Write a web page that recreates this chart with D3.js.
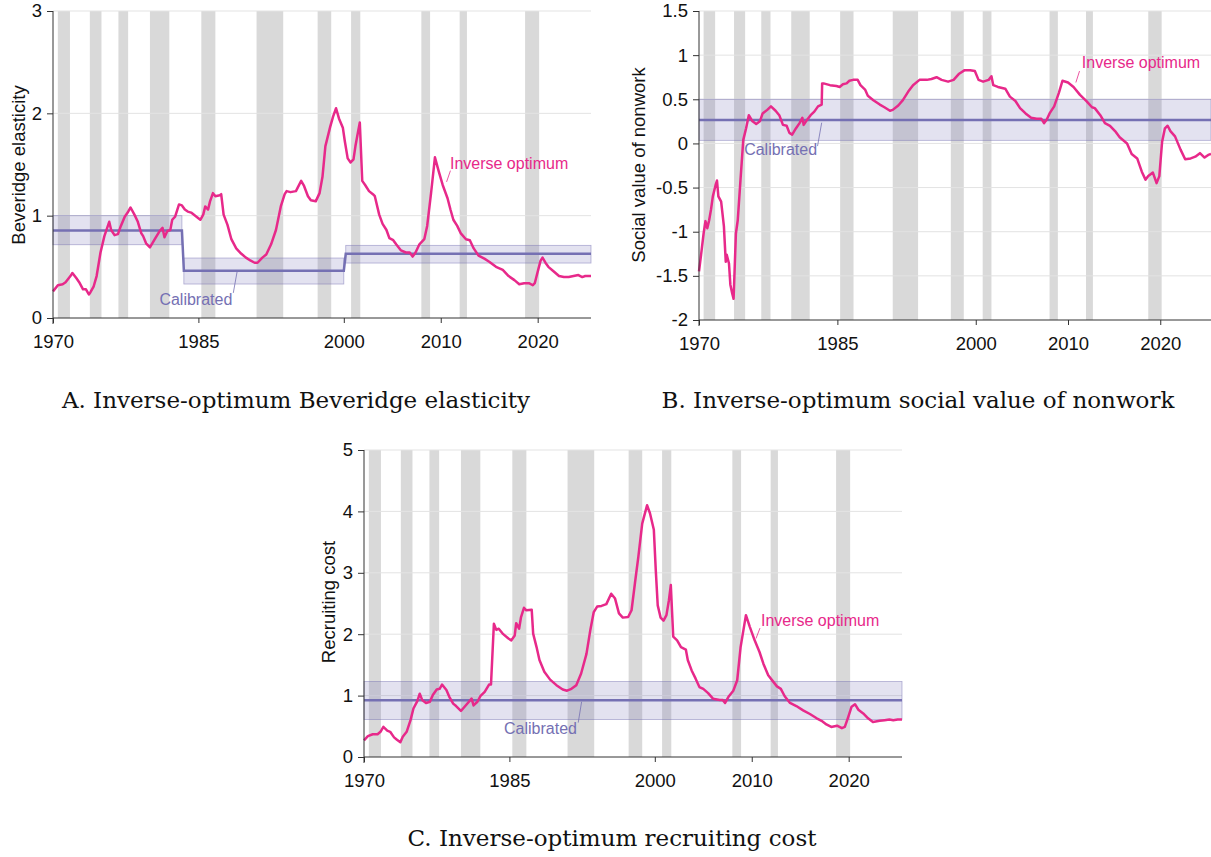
<!DOCTYPE html>
<html>
<head>
<meta charset="utf-8">
<script src="https://cdn.jsdelivr.net/npm/d3@7"></script>
<style>
  html, body { margin: 0; padding: 0; background: #fff; }
  svg { display: block; }
</style>
</head>
<body>
<svg id="chart" width="1211" height="857"></svg>
<script>
// ---------------- DATA ----------------
const xTickYears = [1970, 1985, 2000, 2010, 2020];
const xDomain = [1970, 2025.5];

// Shaded periods [start, end]
const shadedPeriods = [
  [1970.5, 1971.75], [1973.8, 1975.0], [1976.75, 1977.75], [1980.0, 1982.0],
  [1985.3, 1986.75], [1991.0, 1993.75], [1997.3, 1998.7], [2000.75, 2001.7],
  [2008.0, 2008.9], [2011.95, 2012.7], [2018.7, 2020.15]
];

// Panel A: inverse-optimum Beveridge elasticity [year, value]
const inverseA = [
  [1970.0,0.26],[1970.5,0.32],[1971.0,0.33],[1971.3,0.35],[1971.8,0.41],[1972.0,0.44],
  [1972.4,0.39],[1972.7,0.35],[1973.1,0.28],[1973.4,0.28],[1973.7,0.23],[1973.85,0.25],
  [1974.2,0.31],[1974.5,0.41],[1974.9,0.64],[1975.3,0.80],[1975.8,0.94],[1976.0,0.86],
  [1976.35,0.81],[1976.7,0.82],[1977.0,0.90],[1977.4,0.99],[1977.7,1.03],[1978.0,1.08],
  [1978.4,1.01],[1978.75,0.94],[1979.1,0.83],[1979.3,0.80],[1979.6,0.73],[1980.0,0.69],
  [1980.5,0.77],[1981.0,0.85],[1981.3,0.88],[1981.5,0.79],[1981.8,0.85],[1982.1,0.86],
  [1982.3,0.96],[1982.6,0.99],[1983.0,1.11],[1983.3,1.10],[1983.6,1.06],[1983.9,1.04],
  [1984.25,1.03],[1984.8,0.99],[1985.2,0.96],[1985.5,1.01],[1985.7,1.09],[1986.0,1.06],
  [1986.2,1.14],[1986.5,1.22],[1986.75,1.19],[1987.2,1.20],[1987.35,1.21],[1987.6,1.01],
  [1988.0,0.91],[1988.4,0.77],[1988.9,0.68],[1989.4,0.63],[1989.9,0.59],[1990.4,0.56],
  [1990.8,0.54],[1991.1,0.54],[1991.6,0.59],[1992.0,0.62],[1992.5,0.72],[1993.0,0.86],
  [1993.5,1.09],[1993.9,1.21],[1994.1,1.24],[1994.5,1.23],[1995.06,1.24],[1995.6,1.34],
  [1995.9,1.29],[1996.3,1.19],[1996.6,1.15],[1997.1,1.14],[1997.5,1.22],[1997.8,1.38],
  [1998.1,1.68],[1998.6,1.87],[1998.9,1.97],[1999.2,2.05],[1999.5,1.95],[1999.9,1.86],
  [2000.1,1.73],[2000.4,1.56],[2000.7,1.52],[2001.0,1.55],[2001.2,1.68],[2001.45,1.81],
  [2001.65,1.91],[2001.9,1.34],[2002.2,1.30],[2002.6,1.24],[2003.0,1.21],[2003.2,1.19],
  [2003.65,1.01],[2004.0,0.92],[2004.4,0.86],[2004.7,0.78],[2005.1,0.76],[2005.4,0.72],
  [2005.9,0.66],[2006.4,0.64],[2006.8,0.64],[2007.1,0.60],[2007.4,0.64],[2007.8,0.72],
  [2008.3,0.77],[2008.6,0.90],[2009.0,1.22],[2009.4,1.57],[2009.8,1.43],[2010.2,1.30],
  [2010.7,1.17],[2011.0,1.06],[2011.3,0.96],[2011.7,0.90],[2012.05,0.83],[2012.6,0.77],
  [2013.0,0.76],[2013.4,0.68],[2013.9,0.61],[2014.5,0.58],[2015.0,0.55],[2015.7,0.50],
  [2016.4,0.47],[2017.0,0.41],[2017.6,0.37],[2018.1,0.33],[2018.6,0.34],[2019.1,0.34],
  [2019.5,0.32],[2019.7,0.34],[2020.05,0.47],[2020.3,0.56],[2020.5,0.59],[2020.8,0.54],
  [2021.1,0.50],[2021.6,0.46],[2022.2,0.41],[2022.7,0.40],[2023.2,0.40],[2023.7,0.41],
  [2024.2,0.42],[2024.6,0.40],[2024.9,0.41],[2025.5,0.41]
];
// Calibrated regimes for A: [start, end, value, low, high]
const calibratedA = [
  [1970.0, 1983.3, 0.855, 0.716, 1.0],
  [1983.5, 2000.0, 0.462, 0.332, 0.586],
  [2000.2, 2025.5, 0.628, 0.537, 0.71]
];

// Panel B: inverse-optimum social value of nonwork
const inverseB = [
  [1970.0,-1.45],[1970.25,-1.24],[1970.5,-1.02],[1970.7,-0.88],[1970.9,-0.96],[1971.1,-0.87],
  [1971.3,-0.75],[1971.5,-0.60],[1971.8,-0.47],[1971.95,-0.42],[1972.1,-0.60],[1972.4,-0.66],
  [1972.7,-0.94],[1972.9,-1.34],[1973.0,-1.26],[1973.25,-1.36],[1973.4,-1.60],[1973.6,-1.70],
  [1973.75,-1.76],[1974.0,-1.02],[1974.2,-0.87],[1974.5,-0.41],[1974.8,0.04],[1975.1,0.17],
  [1975.4,0.32],[1975.8,0.25],[1976.2,0.22],[1976.6,0.25],[1976.9,0.34],[1977.4,0.38],
  [1977.8,0.42],[1978.3,0.37],[1978.7,0.32],[1979.1,0.21],[1979.5,0.20],[1979.8,0.12],
  [1980.1,0.10],[1980.5,0.17],[1980.9,0.23],[1981.2,0.29],[1981.35,0.21],[1981.6,0.25],
  [1982.1,0.32],[1982.5,0.36],[1982.9,0.42],[1983.3,0.44],[1983.35,0.68],[1983.5,0.68],
  [1984.2,0.66],[1984.9,0.65],[1985.25,0.64],[1985.6,0.67],[1986.0,0.68],[1986.3,0.71],
  [1986.7,0.72],[1987.2,0.72],[1987.5,0.66],[1988.0,0.61],[1988.3,0.54],[1988.9,0.49],
  [1989.6,0.44],[1990.1,0.41],[1990.7,0.37],[1991.0,0.38],[1991.6,0.43],[1992.1,0.49],
  [1992.7,0.59],[1993.2,0.66],[1993.9,0.72],[1994.7,0.72],[1995.2,0.73],[1995.75,0.75],
  [1996.3,0.72],[1997.0,0.70],[1997.6,0.72],[1998.2,0.79],[1998.8,0.83],[1999.4,0.83],
  [1999.9,0.82],[2000.3,0.72],[2000.8,0.70],[2001.4,0.72],[2001.7,0.76],[2001.9,0.66],
  [2002.4,0.64],[2003.2,0.62],[2003.7,0.53],[2004.3,0.48],[2004.8,0.40],[2005.4,0.34],
  [2006.0,0.29],[2006.6,0.28],[2007.1,0.28],[2007.4,0.23],[2007.7,0.27],[2008.0,0.34],
  [2008.5,0.42],[2009.0,0.57],[2009.4,0.71],[2010.0,0.69],[2010.6,0.64],[2011.3,0.55],
  [2012.0,0.48],[2012.6,0.41],[2012.9,0.40],[2013.5,0.32],[2014.0,0.23],[2014.55,0.20],
  [2015.1,0.14],[2015.6,0.07],[2016.4,0.00],[2016.9,-0.12],[2017.5,-0.17],[2018.0,-0.32],
  [2018.4,-0.41],[2018.7,-0.37],[2019.2,-0.33],[2019.6,-0.45],[2019.9,-0.37],[2020.2,0.02],
  [2020.5,0.17],[2020.8,0.20],[2021.1,0.14],[2021.6,0.08],[2022.2,-0.07],[2022.7,-0.18],
  [2023.3,-0.17],[2023.8,-0.15],[2024.3,-0.11],[2024.8,-0.16],[2025.2,-0.13],[2025.5,-0.12]
];
const calibratedB = [
  [1970.0, 2025.5, 0.265, 0.035, 0.5]
];

// Panel C: inverse-optimum recruiting cost
const inverseC = [
  [1970.0,0.27],[1970.4,0.34],[1970.9,0.37],[1971.4,0.37],[1971.7,0.41],[1972.0,0.49],
  [1972.4,0.43],[1972.7,0.41],[1973.1,0.32],[1973.4,0.28],[1973.75,0.24],[1974.0,0.33],
  [1974.4,0.41],[1974.8,0.60],[1975.1,0.79],[1975.5,0.91],[1975.75,1.03],[1976.0,0.93],
  [1976.4,0.88],[1976.8,0.90],[1977.1,1.01],[1977.5,1.10],[1977.8,1.11],[1978.05,1.18],
  [1978.5,1.09],[1978.8,0.98],[1979.2,0.87],[1979.5,0.83],[1980.0,0.75],[1980.6,0.86],
  [1981.1,0.95],[1981.3,0.84],[1981.7,0.90],[1982.0,0.99],[1982.45,1.06],[1982.9,1.18],
  [1983.1,1.18],[1983.4,2.17],[1983.65,2.07],[1983.9,2.09],[1984.3,2.01],[1984.9,1.93],
  [1985.2,1.90],[1985.55,1.98],[1985.7,2.18],[1986.0,2.09],[1986.2,2.28],[1986.5,2.43],
  [1986.75,2.39],[1987.3,2.40],[1987.45,2.01],[1987.8,1.79],[1988.1,1.58],[1988.6,1.39],
  [1989.2,1.26],[1989.85,1.17],[1990.5,1.10],[1990.95,1.08],[1991.4,1.11],[1991.9,1.17],
  [1992.4,1.36],[1992.95,1.68],[1993.35,2.07],[1993.7,2.36],[1994.05,2.45],[1994.5,2.46],
  [1995.0,2.49],[1995.5,2.66],[1995.9,2.58],[1996.3,2.34],[1996.7,2.27],[1997.25,2.28],
  [1997.6,2.39],[1997.95,2.83],[1998.3,3.26],[1998.7,3.80],[1999.2,4.10],[1999.5,3.97],
  [1999.9,3.70],[2000.1,3.04],[2000.3,2.47],[2000.6,2.27],[2000.9,2.22],[2001.2,2.31],
  [2001.45,2.55],[2001.65,2.80],[2001.9,1.96],[2002.3,1.90],[2002.7,1.79],[2003.2,1.75],
  [2003.4,1.58],[2003.8,1.41],[2004.2,1.28],[2004.6,1.14],[2005.0,1.11],[2005.5,1.04],
  [2006.0,0.95],[2006.7,0.93],[2007.0,0.93],[2007.25,0.88],[2007.6,0.98],[2008.1,1.08],
  [2008.5,1.25],[2008.85,1.79],[2009.4,2.31],[2009.8,2.12],[2010.3,1.90],[2010.8,1.71],
  [2011.2,1.52],[2011.7,1.33],[2012.15,1.24],[2012.6,1.15],[2013.0,1.11],[2013.4,0.99],
  [2013.95,0.88],[2014.6,0.83],[2015.3,0.76],[2016.0,0.70],[2016.7,0.63],[2017.2,0.59],
  [2017.7,0.53],[2018.2,0.49],[2018.8,0.51],[2019.3,0.47],[2019.6,0.49],[2019.95,0.65],
  [2020.3,0.82],[2020.65,0.86],[2021.0,0.77],[2021.5,0.71],[2022.0,0.63],[2022.5,0.57],
  [2023.2,0.59],[2023.7,0.60],[2024.2,0.61],[2024.6,0.60],[2025.05,0.61],[2025.5,0.61]
];
const calibratedC = [
  [1970.0, 2025.5, 0.924, 0.61, 1.23]
];

const yTicksA = [0, 1, 2, 3];
const yTicksB = [-2, -1.5, -1, -0.5, 0, 0.5, 1, 1.5];
const yTicksC = [0, 1, 2, 3, 4, 5];

const titles = [
  "A. Inverse-optimum Beveridge elasticity",
  "B. Inverse-optimum social value of nonwork",
  "C. Inverse-optimum recruiting cost"
];
const yLabels = ["Beveridge elasticity", "Social value of nonwork", "Recruiting cost"];
const seriesNames = ["Inverse optimum", "Calibrated"];

// ---------------- STYLE ----------------
const PINK = "#e7298a", PURPLE = "#7570b3";
const SANS = "'Liberation Sans', Arial, Helvetica, sans-serif";
const SERIF = "'DejaVu Serif', 'Liberation Serif', serif";

const svg = d3.select("#chart");

function drawPanel(cfg) {
  const x = d3.scaleLinear().domain(xDomain).range(cfg.xRange);
  const y = d3.scaleLinear().domain(cfg.yDomain).range(cfg.yRange);
  const g = svg.append("g");
  const [x0, x1] = cfg.xRange, [yb, yt] = cfg.yRange;

  // shaded periods
  g.append("g").selectAll("rect").data(shadedPeriods).join("rect")
    .attr("x", d => x(d[0])).attr("width", d => x(d[1]) - x(d[0]))
    .attr("y", yt).attr("height", yb - yt)
    .attr("fill", "#d9d9d9");

  // gridlines
  g.append("g").selectAll("line").data(cfg.yTicks.filter(t => t !== cfg.yDomain[0])).join("line")
    .attr("x1", x0).attr("x2", x1).attr("y1", d => y(d)).attr("y2", d => y(d))
    .attr("stroke", "#e3e3e3").attr("stroke-width", 1);

  // calibrated band
  g.append("g").selectAll("rect").data(cfg.calibrated).join("rect")
    .attr("x", d => x(d[0])).attr("width", d => x(d[1]) - x(d[0]))
    .attr("y", d => y(d[4])).attr("height", d => y(d[3]) - y(d[4]))
    .attr("fill", PURPLE).attr("fill-opacity", 0.2)
    .attr("stroke", PURPLE).attr("stroke-opacity", 0.55).attr("stroke-width", 0.8);

  // calibrated line
  const calPts = [];
  cfg.calibrated.forEach(d => { calPts.push([d[0], d[2]]); calPts.push([d[1], d[2]]); });
  const line = d3.line().x(d => x(d[0])).y(d => y(d[1]));
  g.append("path").datum(calPts).attr("d", line)
    .attr("fill", "none").attr("stroke", PURPLE).attr("stroke-width", 2.5);

  // inverse optimum line
  g.append("path").datum(cfg.inverse).attr("d", line)
    .attr("fill", "none").attr("stroke", PINK).attr("stroke-width", 2.5)
    .attr("stroke-linejoin", "round");

  // axes
  const yAxis = d3.axisLeft(y).tickValues(cfg.yTicks).tickSize(6).tickPadding(5)
    .tickFormat(d => String(d));
  const ya = g.append("g").attr("transform", `translate(${x0},0)`).call(yAxis);
  const xAxis = d3.axisBottom(x).tickValues(xTickYears).tickSize(5).tickPadding(12)
    .tickFormat(d => String(d));
  const xa = g.append("g").attr("transform", `translate(0,${yb})`).call(xAxis);
  [ya, xa].forEach(a => {
    a.select(".domain").attr("stroke", "#333").attr("stroke-width", 1);
    a.selectAll(".tick line").attr("stroke", "#333");
    a.selectAll(".tick text").attr("font-family", SANS).attr("font-size", 18.5).attr("fill", "#111");
  });
  ya.select(".domain").remove();
  g.append("line").attr("x1", x0).attr("x2", x0).attr("y1", yt).attr("y2", yb + 6)
    .attr("stroke", "#333");
  xa.select(".domain").attr("d", `M${x0},0H${x1}`);

  // y label
  g.append("text")
    .attr("transform", `translate(${cfg.yLabelX},${cfg.yLabelY}) rotate(-90)`)
    .attr("text-anchor", "middle").attr("font-family", SANS).attr("font-size", 18.5)
    .attr("fill", "#111").text(cfg.yLabel);

  // series labels with leader lines
  const inv = cfg.invLabel, cal = cfg.calLabel;
  g.append("line").attr("x1", x(inv.lx1)).attr("y1", y(inv.ly1)).attr("x2", x(inv.lx2)).attr("y2", y(inv.ly2))
    .attr("stroke", PINK).attr("stroke-width", 0.8);
  g.append("text").attr("x", x(inv.tx)).attr("y", y(inv.ty)).attr("font-family", SANS)
    .attr("font-size", 16).attr("fill", PINK).text(seriesNames[0]);
  g.append("line").attr("x1", x(cal.lx1)).attr("y1", y(cal.ly1)).attr("x2", x(cal.lx2)).attr("y2", y(cal.ly2))
    .attr("stroke", PURPLE).attr("stroke-width", 0.8);
  g.append("text").attr("x", x(cal.tx)).attr("y", y(cal.ty)).attr("font-family", SANS)
    .attr("font-size", 16).attr("fill", PURPLE).attr("text-anchor", "end").text(seriesNames[1]);

  // title
  svg.append("text").attr("x", cfg.titleX).attr("y", cfg.titleY).attr("text-anchor", "middle")
    .attr("font-family", SERIF).attr("font-size", 23).attr("fill", "#111").text(cfg.title);
}

drawPanel({
  xRange: [53, 591], yRange: [318, 11], yDomain: [0, 3], yTicks: yTicksA,
  inverse: inverseA, calibrated: calibratedA,
  yLabel: yLabels[0], yLabelX: 25, yLabelY: 165,
  invLabel: { tx: 2010.95, ty: 1.46, lx1: 2011.0, ly1: 1.44, lx2: 2010.6, ly2: 1.33 },
  calLabel: { tx: 1988.5, ty: 0.13, lx1: 1988.6, ly1: 0.245, lx2: 1989.0, ly2: 0.457 },
  title: titles[0], titleX: 296, titleY: 408
});
drawPanel({
  xRange: [699, 1211], yRange: [320, 11], yDomain: [-2, 1.5], yTicks: yTicksB,
  inverse: inverseB, calibrated: calibratedB,
  yLabel: yLabels[1], yLabelX: 645, yLabelY: 165,
  invLabel: { tx: 2011.5, ty: 0.86, lx1: 2011.25, ly1: 0.82, lx2: 2010.85, ly2: 0.69 },
  calLabel: { tx: 1982.8, ty: -0.13, lx1: 1982.85, ly1: -0.03, lx2: 1983.3, ly2: 0.235 },
  title: titles[1], titleX: 918, titleY: 408
});
drawPanel({
  xRange: [364, 902], yRange: [757, 450], yDomain: [0, 5], yTicks: yTicksC,
  inverse: inverseC, calibrated: calibratedC,
  yLabel: yLabels[2], yLabelX: 335, yLabelY: 602,
  invLabel: { tx: 2010.95, ty: 2.13, lx1: 2010.85, ly1: 2.1, lx2: 2010.44, ly2: 1.93 },
  calLabel: { tx: 1991.97, ty: 0.375, lx1: 1992.1, ly1: 0.56, lx2: 1992.45, ly2: 0.9 },
  title: titles[2], titleX: 612, titleY: 846
});
</script>
</body>
</html>
